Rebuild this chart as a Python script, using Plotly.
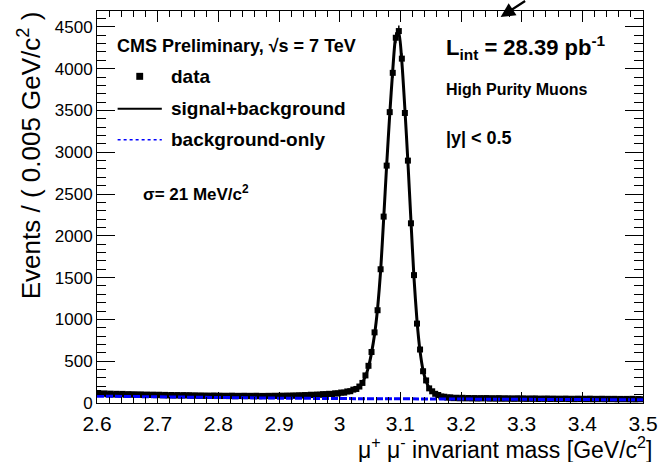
import numpy as np
import plotly.graph_objects as go

# Dimuon invariant mass spectrum around the J/psi, 0.005 GeV/c^2 bins from 2.6 to 3.5
bin_lo, bin_hi, bin_w = 2.6, 3.5, 0.005
mass = np.round(np.arange(bin_lo + bin_w / 2, bin_hi, bin_w), 4)

events = [
    120, 108, 115, 104, 112, 101, 110, 103, 109, 98,
    106, 99, 104, 97, 103, 95, 101, 96, 100, 94,
    99, 92, 97, 90, 96, 89, 95, 88, 94, 90,
    93, 87, 91, 86, 90, 85, 89, 84, 90, 83,
    88, 83, 87, 82, 88, 81, 86, 83, 87, 82,
    86, 82, 87, 81, 85, 83, 86, 82, 87, 84,
    88, 84, 89, 85, 90, 87, 92, 89, 95, 92,
    99, 95, 101, 98, 106, 103, 110, 108, 116, 114,
    125, 124, 138, 141, 160, 168, 197, 240, 330, 445,
    610, 845, 1110, 1600, 2230, 2840, 3480, 3950, 4370, 4450,
    4120, 3470, 2900, 2150, 1530, 950, 640, 380, 270, 175,
    140, 110, 96, 78, 75, 64, 68, 58, 63, 56,
    62, 55, 60, 54, 59, 53, 58, 55, 59, 52,
    57, 52, 58, 51, 56, 52, 55, 50, 56, 51,
    55, 49, 54, 50, 55, 48, 53, 49, 54, 48,
    53, 47, 52, 48, 53, 47, 51, 46, 52, 47,
    51, 46, 52, 45, 50, 46, 51, 45, 50, 46,
    50, 44, 49, 45, 49, 44, 50, 43, 48, 45,
]

# signal+background fit evaluated at the bin centres
fit_total = [
    112, 111, 110, 109, 108, 107, 106, 106, 105, 104,
    103, 102, 102, 101, 100, 99, 99, 98, 97, 97,
    96, 95, 95, 94, 93, 93, 92, 92, 91, 91,
    90, 90, 89, 89, 88, 88, 87, 87, 87, 86,
    86, 86, 85, 85, 85, 84, 84, 84, 84, 84,
    84, 84, 84, 84, 84, 84, 84, 85, 85, 85,
    86, 86, 87, 87, 88, 89, 90, 91, 92, 94,
    96, 97, 99, 101, 103, 105, 107, 110, 113, 117,
    121, 127, 134, 143, 155, 166, 192, 245, 320, 430,
    600, 820, 1130, 1580, 2200, 2850, 3450, 3980, 4380, 4440,
    4080, 3520, 2880, 2180, 1500, 980, 620, 390, 260, 180,
    135, 108, 92, 80, 72, 67, 64, 62, 60, 59,
    59, 58, 58, 57, 57, 57, 56, 56, 56, 55,
    55, 55, 54, 54, 54, 54, 53, 53, 53, 53,
    52, 52, 52, 52, 52, 51, 51, 51, 51, 51,
    50, 50, 50, 50, 50, 50, 49, 49, 49, 49,
    49, 49, 49, 48, 48, 48, 48, 48, 48, 48,
    47, 47, 47, 47, 47, 47, 47, 46, 46, 46,
]

# background-only component
bkg_mass = [2.6, 2.7, 2.8, 2.9, 3.0, 3.1, 3.2, 3.3, 3.4, 3.5]
bkg_events = [82, 72, 64, 58, 53, 49, 45, 42, 40, 38]

x_ticks = [2.6, 2.7, 2.8, 2.9, 3.0, 3.1, 3.2, 3.3, 3.4, 3.5]
x_tick_text = ["2.6", "2.7", "2.8", "2.9", "3", "3.1", "3.2", "3.3", "3.4", "3.5"]
y_ticks = [0, 500, 1000, 1500, 2000, 2500, 3000, 3500, 4000, 4500]

FONT = "Liberation Sans, Arial, Helvetica, sans-serif"

fig = go.Figure()

fig.add_trace(go.Scatter(
    x=mass, y=events, mode="markers",
    marker=dict(symbol="square", size=6, color="black"),
    error_y=dict(type="data", array=np.sqrt(events), color="black",
                 thickness=1.5, width=0),
    showlegend=False,
))

fig.add_trace(go.Scatter(
    x=mass, y=fit_total, mode="lines",
    line=dict(color="black", width=3, shape="spline", smoothing=0.6),
    showlegend=False, hoverinfo="skip",
))

fig.add_trace(go.Scatter(
    x=bkg_mass, y=bkg_events, mode="lines",
    line=dict(color="#0000ff", width=3, dash="7px,2px"),
    showlegend=False, hoverinfo="skip",
))

L, R, T, B = 97, 15, 10, 59
W, H = 668, 462
pw, ph = W - L - R, H - T - B


def px(x):
    return (x - L) / pw


def py(y):
    return (H - B - y) / ph


shapes = []
annotations = []


def text(x, y, s, size, anchor="left", color="black"):
    annotations.append(dict(
        x=px(x), y=py(y), xref="paper", yref="paper", text=s, showarrow=False,
        xanchor=anchor, yanchor="middle",
        font=dict(family=FONT, size=size, color=color),
    ))


# header and legend
text(115, 45, "<b>CMS Preliminary, √s = 7 TeV</b>", 18)
shapes.append(dict(type="rect", xref="paper", yref="paper",
                   x0=px(137), x1=px(144), y0=py(72), y1=py(79),
                   fillcolor="black", line=dict(width=0)))
text(170, 76, "<b>data</b>", 19)
shapes.append(dict(type="line", xref="paper", yref="paper",
                   x0=px(118), x1=px(163), y0=py(108), y1=py(108),
                   line=dict(color="black", width=2)))
text(170, 108, "<b>signal+background</b>", 19)
shapes.append(dict(type="line", xref="paper", yref="paper",
                   x0=px(118), x1=px(163), y0=py(139), y1=py(139),
                   line=dict(color="#0000ff", width=1.5, dash="dot")))
text(170, 139, "<b>background-only</b>", 19)
text(142, 192, "<b>σ= 21 MeV/c<sup>2</sup></b>", 17)

text(450, 47, "<b>L<sub>int</sub> = 28.39 pb<sup>-1</sup></b>", 22)
text(450, 89, "<b>High Purity Muons</b>", 16)
text(450, 137, "<b>|y| < 0.5</b>", 18)

# axis titles
annotations.append(dict(
    x=px(664), y=py(448), xref="paper", yref="paper", xanchor="right", yanchor="middle",
    text="μ<sup>+</sup> μ<sup>-</sup> invariant mass [GeV/c<sup>2</sup>]",
    showarrow=False, font=dict(family=FONT, size=23, color="black"),
))
annotations.append(dict(
    x=px(28), y=py(8), xref="paper", yref="paper", xanchor="center", yanchor="top",
    text="Events / ( 0.005 GeV/c<sup>2</sup> )", textangle=-90,
    showarrow=False, font=dict(family=FONT, size=26, color="black"),
))

# pointer arrow at the top edge
annotations.append(dict(
    x=px(508), y=py(16), xref="paper", yref="paper", text="",
    showarrow=True, arrowhead=2, arrowsize=1.3, arrowwidth=2.2,
    arrowcolor="black", ax=26, ay=-20,
))

fig.update_layout(
    width=W, height=H,
    margin=dict(l=L, r=R, t=T, b=B),
    paper_bgcolor="white", plot_bgcolor="white",
    font=dict(family=FONT, color="black"),
    shapes=shapes, annotations=annotations,
    showlegend=False,
)

fig.update_xaxes(
    range=[bin_lo, bin_hi], tickvals=x_ticks, ticktext=x_tick_text,
    ticks="inside", ticklen=11, tickwidth=1, tickcolor="black",
    minor=dict(dtick=0.02, ticks="inside", ticklen=6, tickcolor="black"),
    showline=True, linecolor="black", linewidth=1, mirror="ticks",
    showgrid=False, zeroline=False,
    tickfont=dict(family=FONT, size=21), ticklabelstandoff=2,
)
fig.update_yaxes(
    range=[0, 4690], tickvals=y_ticks,
    ticks="inside", ticklen=18, tickwidth=1, tickcolor="black",
    minor=dict(dtick=100, ticks="inside", ticklen=9, tickcolor="black"),
    showline=True, linecolor="black", linewidth=1, mirror="ticks",
    showgrid=False, zeroline=False,
    tickfont=dict(family=FONT, size=17), ticklabelstandoff=0,
)

fig.write_html("out.html")
